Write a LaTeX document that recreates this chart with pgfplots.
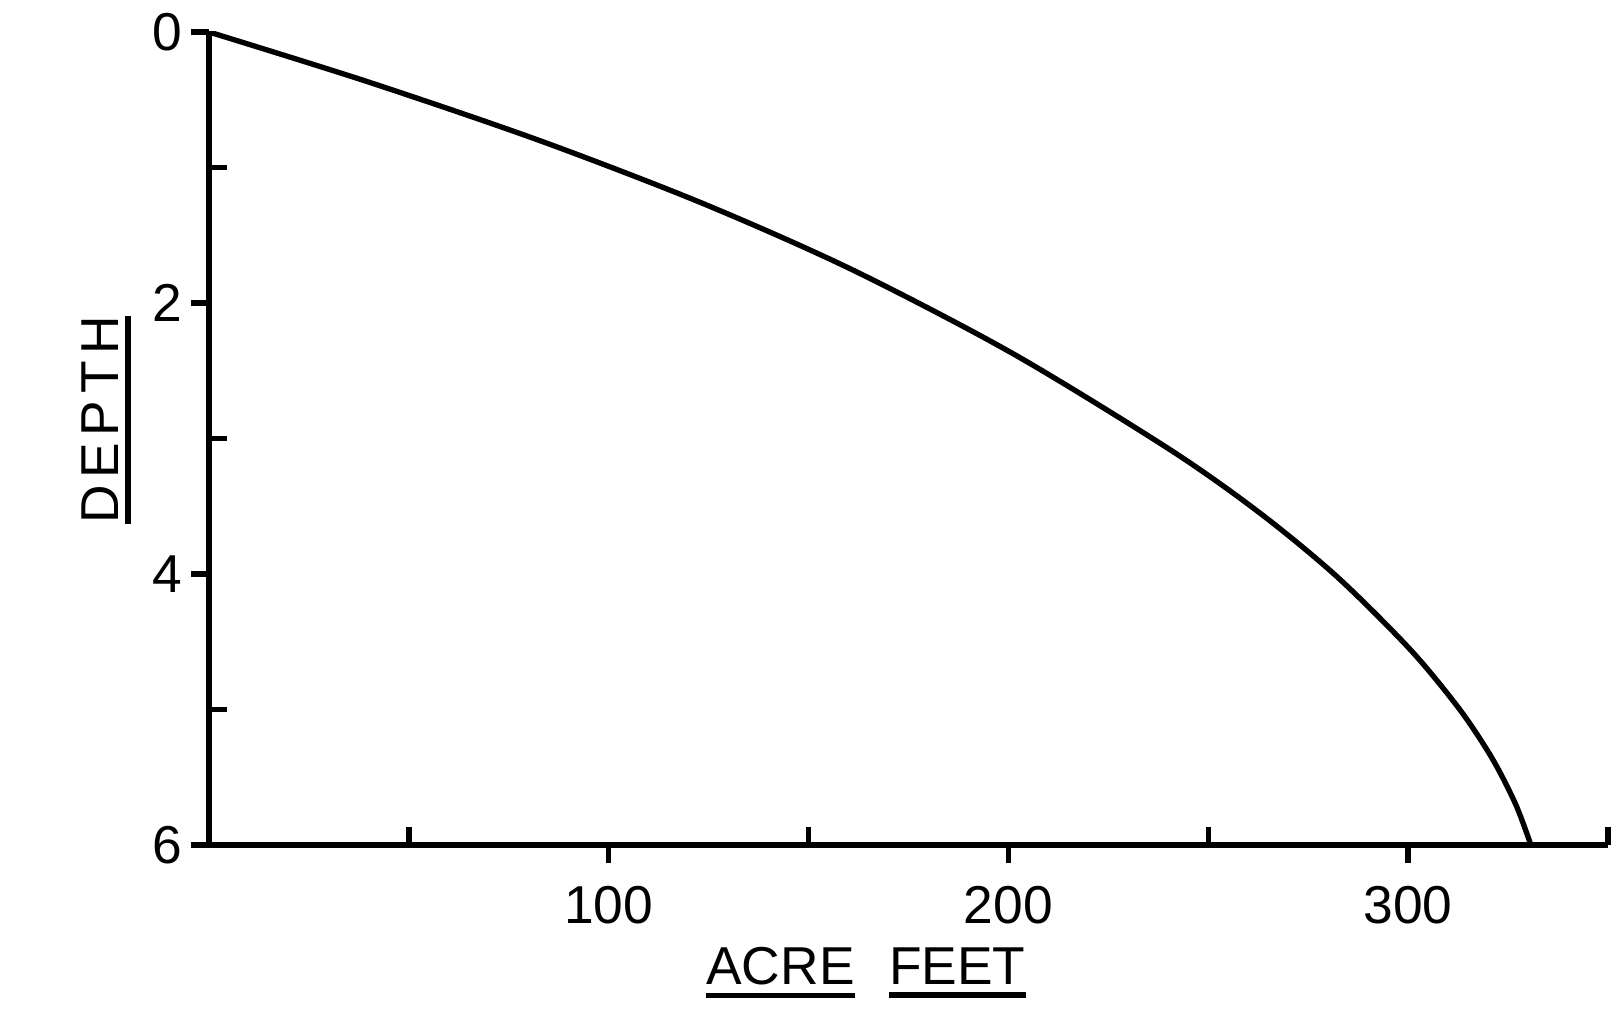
\documentclass[border=0pt]{standalone}
\usepackage{pgfplots}
\pgfplotsset{compat=1.18}
\usepackage{fontspec}
\setmainfont{Liberation Sans}
% underlined word with a thick rule below it
\newcommand\ul[1]{\leavevmode\vtop{\hbox{#1}\kern2.2pt\hrule height 1.6pt}}

\begin{document}
\begin{tikzpicture}
\begin{axis}[
    scale only axis,
    width=419.7pt, height=243.9pt,
    xmin=0, xmax=350, ymin=0, ymax=6,
    y dir=reverse,
    axis x line=bottom, axis y line=left,
    axis line style={line width=2pt, -},
    tick style={line width=1.6pt, black},
    major tick length=5.5pt,
    tick align=inside,
    xtick={50,150,250,350}, xticklabels={},
    ytick={1,3,5}, yticklabels={},
    extra x ticks={100,200,300}, extra x tick labels={100,200,300},
    extra x tick style={tick align=outside,
        xticklabel style={inner sep=0pt, anchor=north, yshift=-6.8pt}},
    extra y ticks={0,2,4,6}, extra y tick labels={0,2,4,6},
    extra y tick style={tick align=outside,
        yticklabel style={inner sep=0pt, anchor=east, xshift=-2.2pt}},
    ticklabel style={font=\fontsize{16}{18}\selectfont},
    /pgf/number format/assume math mode=true,
    xlabel={\ul{ACRE}\hspace{0.65em}\ul{FEET}},
    x label style={at={(axis description cs:0.4696,-0.1722)}, anchor=base,
        inner sep=0pt, font=\fontsize{16}{18}\selectfont},
    ylabel={\ul{D\kern2pt E\kern2pt P\kern2pt T\kern2pt H}},
    y label style={at={(axis description cs:-0.065,0.523)}, rotate=0, anchor=base,
        inner sep=0pt, font=\fontsize{16}{18}\selectfont},
]
\addplot [black, line width=1.6pt, smooth] coordinates {
    (0,0)
    (40,0.37)
    (82.6,0.80)
    (123.1,1.26)
    (160.6,1.75)
    (200.9,2.37)
    (240.3,3.08)
    (262.9,3.55)
    (282.2,4.02)
    (300.6,4.56)
    (312.9,5.00)
    (321,5.36)
    (326.9,5.70)
    (330.7,6.0)
};
\coordinate (bl) at (axis cs:0,6);
\coordinate (tr) at (axis cs:350,0);
\end{axis}
\pgfresetboundingbox
\path ([shift={(-62.7pt,-52.5pt)}]bl) rectangle ([shift={(1.2pt,9.6pt)}]tr);
\end{tikzpicture}
\end{document}
